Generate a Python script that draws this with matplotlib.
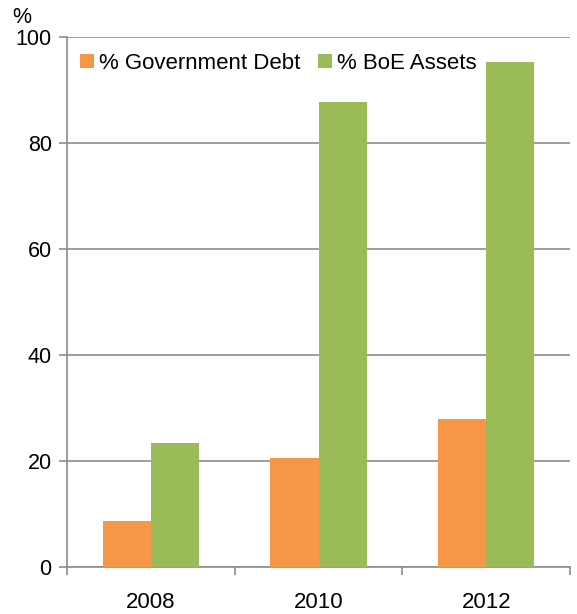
import matplotlib
matplotlib.use("Agg")
import matplotlib.pyplot as plt
import numpy as np

plt.rcParams['font.family'] = ['Liberation Sans', 'DejaVu Sans']

years = ['2008', '2010', '2012']
gov_debt = [8.7, 20.6, 27.9]
boe_assets = [23.4, 87.7, 95.3]
series_names = ['% Government Debt', '% BoE Assets']

orange = '#F79646'
green = '#9BBB59'
grey = '#8C8C8C'

fig = plt.figure(figsize=(5.77, 6.14), dpi=100)
ax = fig.add_axes([0.116, 0.0765, 0.872, 0.8635])

x = np.arange(len(years))
w = 0.287
ax.bar(x - w / 2, gov_debt, w, color=orange, label=series_names[0], zorder=3)
ax.bar(x + w / 2, boe_assets, w, color=green, label=series_names[1], zorder=3)

ax.set_xlim(-0.5, len(years) - 0.5)
ax.set_ylim(0, 100)
ax.set_yticks(range(0, 101, 20))
ax.yaxis.grid(True, color=grey, linewidth=1.2, zorder=0)

# category labels centred, tick marks on the boundaries
ax.set_xticks(x)
ax.set_xticklabels(years)
ax.set_xticks(np.arange(-0.5, len(years)), minor=True)
ax.tick_params(axis='x', which='major', length=0, labelsize=16, pad=18)
ax.tick_params(axis='x', which='minor', length=6, width=1.2, color=grey)
ax.tick_params(axis='y', length=6, width=1.2, color=grey, labelsize=15.5, pad=5)

for s in ['top', 'right']:
    ax.spines[s].set_visible(False)
for s in ['left', 'bottom']:
    ax.spines[s].set_color(grey)
    ax.spines[s].set_linewidth(1.2)

fig.text(0.038, 0.972, '%', fontsize=15.5, ha='center', va='center')

ax.legend(loc='upper left', ncol=2, frameon=False, fontsize=16,
          handlelength=0.6, handleheight=0.6, handletextpad=0.25,
          columnspacing=0.8, bbox_to_anchor=(0.0, 0.995), borderaxespad=0.2)

fig.savefig('out.png', dpi=100)
